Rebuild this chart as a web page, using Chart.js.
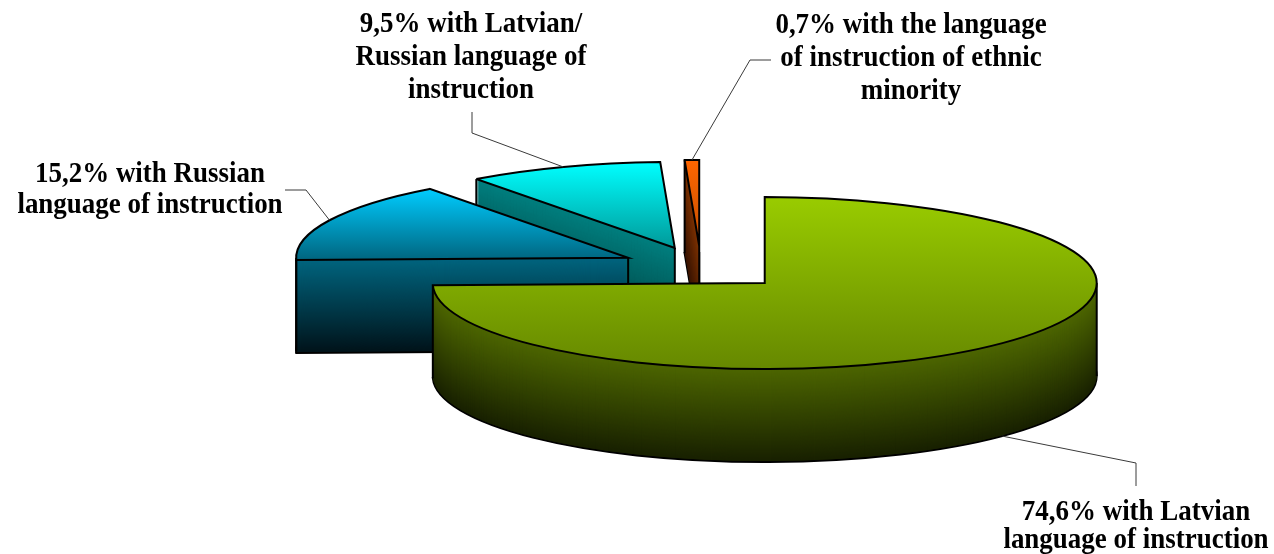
<!DOCTYPE html>
<html>
<head>
<meta charset="utf-8">
<script src="https://cdn.jsdelivr.net/npm/chart.js@4.4.1/dist/chart.umd.min.js"></script>
<style>
	html, body { margin: 0; padding: 0; background: #fff; }
</style>
</head>
<body>
<canvas id="pieChart" width="1274" height="554"></canvas>
<script>
const categories = [
	"with Latvian language of instruction",
	"with Russian language of instruction",
	"with Latvian/Russian language of instruction",
	"with the language of instruction of ethnic minority"
]
const shares = [74.6, 15.2, 9.5, 0.7]
const labelTexts = [
	["with Latvian", "language of instruction"],
	["with Russian", "language of instruction"],
	["with Latvian/", "Russian language of", "instruction"],
	["with the language", "of instruction of ethnic", "minority"]
]

// look of the 3d pie
const topColors = [["#99cc00", "#668800"], ["#00ccff", "#00657f"], ["#00ffff", "#009999"], ["#ff6600", "#c44e00"]]
const sideColors = [["#4d6600", "#182000"], ["#00657f", "#00131a"], ["#007f7f", "#004040"], ["#7f3300", "#381400"]]
const explode = [89, 81, 78, 81]
const squash = 0.259
const depth = 93
const edgeWidth = 2
const labelPos = [
	{ x: 1136, y: [520, 548], elbow: [1136, 463], end: [1136, 486], bottom: true },
	{ x: 150, y: [182, 213], elbow: [306, 190], end: [285, 190] },
	{ x: 471, y: [32, 65, 98], elbow: [472, 133], end: [472, 112] },
	{ x: 911, y: [33, 66, 99], elbow: [750, 60], end: [771, 60] }
]

function hexRgb(h) {
	return [1, 3, 5].map(i => parseInt(h.substr(i, 2), 16))
}

function mix(a, b, t) {
	const p = hexRgb(a), q = hexRgb(b)
	return "rgb(" + p.map((v, i) => Math.round(v + (q[i] - v) * t)).join(",") + ")"
}

function inRange(a, s, e) {
	for (let k = -2; k <= 2; k++) {
		const v = a + k * 2 * Math.PI
		if (v > s + 1e-6 && v < e - 1e-6) return true
	}
	return false
}

function shift(i, el) {
	const mid = (el.startAngle + el.endAngle) / 2
	return [Math.cos(mid) * explode[i], Math.sin(mid) * explode[i]]
}

// screen point of the squashed pie
function screenPoint(el, ox, oy, a, r, dy) {
	return [el.x + ox + r * Math.cos(a), el.y + dy + (oy + r * Math.sin(a)) * squash]
}

function place(ctx, base, el, ox, oy, dy) {
	ctx.setTransform(base)
	ctx.translate(el.x, el.y + dy)
	ctx.scale(1, squash)
	ctx.translate(ox - el.x, oy - el.y)
}

function paint(ctx, el, opts) {
	const saved = el.options
	el.options = Object.assign({}, saved, opts)
	el.draw(ctx)
	el.options = saved
}

const pie3d = {
	id: "pie3d",
	beforeDatasetsDraw(chart) {
		const ctx = chart.ctx
		const arcs = chart.getDatasetMeta(0).data
		const base = ctx.getTransform()
		// keep outlines the same width after squashing
		ctx.stroke = function () {
			this.save()
			this.setTransform(base)
			CanvasRenderingContext2D.prototype.stroke.call(this)
			this.restore()
		}

		const order = arcs.map((el, i) => {
			const [ox, oy] = shift(i, el)
			const mid = (el.startAngle + el.endAngle) / 2
			return { i, y: screenPoint(el, ox, oy, mid, el.outerRadius, 0)[1] }
		}).sort((a, b) => a.y - b.y)

		ctx.save()
		order.forEach(({ i }) => {
			const el = arcs[i]
			const [ox, oy] = shift(i, el)
			const s = el.startAngle, e = el.endAngle, R = el.outerRadius

			// walls, deepest layer first
			for (let d = depth; d >= 1; d--) {
				place(ctx, base, el, ox, oy, d)
				paint(ctx, el, {
					backgroundColor: mix(sideColors[i][0], sideColors[i][1], d / depth),
					borderWidth: d === depth ? edgeWidth : 0
				})
			}

			// visible vertical edges
			const edges = []
			if (Math.cos(s) < -1e-6 || Math.cos(e) > 1e-6) edges.push([0, 0])
			if (Math.cos(s) < -1e-6 || Math.sin(s) > 1e-6) edges.push([s, R])
			if (Math.cos(e) > 1e-6 || Math.sin(e) > 1e-6) edges.push([e, R])
			if (inRange(0, s, e)) edges.push([0, R])
			if (inRange(Math.PI, s, e)) edges.push([Math.PI, R])
			ctx.setTransform(base)
			ctx.strokeStyle = "#000"
			ctx.lineWidth = edgeWidth
			edges.forEach(([a, r]) => {
				const p = screenPoint(el, ox, oy, a, r, 0)
				ctx.beginPath()
				ctx.moveTo(p[0], p[1])
				ctx.lineTo(p[0], p[1] + depth)
				ctx.stroke()
			})

			// top face
			const sins = [0, Math.sin(s), Math.sin(e)]
			if (inRange(-Math.PI / 2, s, e)) sins.push(-1)
			if (inRange(Math.PI / 2, s, e)) sins.push(1)
			place(ctx, base, el, ox, oy, 0)
			const grad = ctx.createLinearGradient(0, el.y + R * Math.min(...sins), 0, el.y + R * Math.max(...sins))
			grad.addColorStop(0, topColors[i][0])
			grad.addColorStop(1, topColors[i][1])
			paint(ctx, el, { backgroundColor: grad, borderWidth: edgeWidth })
		})
		ctx.restore()
		delete ctx.stroke
		return false
	},
	afterDraw(chart) {
		const ctx = chart.ctx
		const arcs = chart.getDatasetMeta(0).data
		ctx.save()
		ctx.font = "bold 29px 'Liberation Serif', 'Times New Roman', serif"
		ctx.fillStyle = "#000"
		ctx.textAlign = "center"
		ctx.textBaseline = "alphabetic"
		labelPos.forEach((pos, i) => {
			const el = arcs[i]
			const [ox, oy] = shift(i, el)
			const mid = (el.startAngle + el.endAngle) / 2
			const a = screenPoint(el, ox, oy, mid, el.outerRadius, pos.bottom ? depth : 0)
			ctx.strokeStyle = "#3a3a3a"
			ctx.lineWidth = 1
			ctx.beginPath()
			ctx.moveTo(a[0], a[1])
			ctx.lineTo(pos.elbow[0], pos.elbow[1])
			ctx.lineTo(pos.end[0], pos.end[1])
			ctx.stroke()

			const lines = labelTexts[i].slice()
			lines[0] = shares[i].toFixed(1).replace(".", ",") + "% " + lines[0]
			lines.forEach((t, j) => {
				ctx.save()
				ctx.translate(pos.x, pos.y[j])
				ctx.scale(0.93, 1)
				ctx.fillText(t, 0, 0)
				ctx.restore()
			})
		})
		ctx.restore()
	}
}

const pieChart = new Chart(
	document.getElementById("pieChart"),
	{
		type: "pie",
		data: {
			labels: categories,
			datasets: [{
				data: shares,
				backgroundColor: topColors.map(c => c[0]),
				borderColor: "#000",
				borderWidth: edgeWidth,
				borderJoinStyle: "miter",
				offset: 0,
				clip: false
			}]
		},
		options: {
			responsive: false,
			animation: false,
			events: [],
			radius: 332,
			layout: { padding: { left: 128, right: 0, top: 0, bottom: 20 } },
			plugins: {
				legend: { display: false },
				tooltip: { enabled: false }
			}
		},
		plugins: [pie3d]
	}
)
</script>
</body>
</html>
